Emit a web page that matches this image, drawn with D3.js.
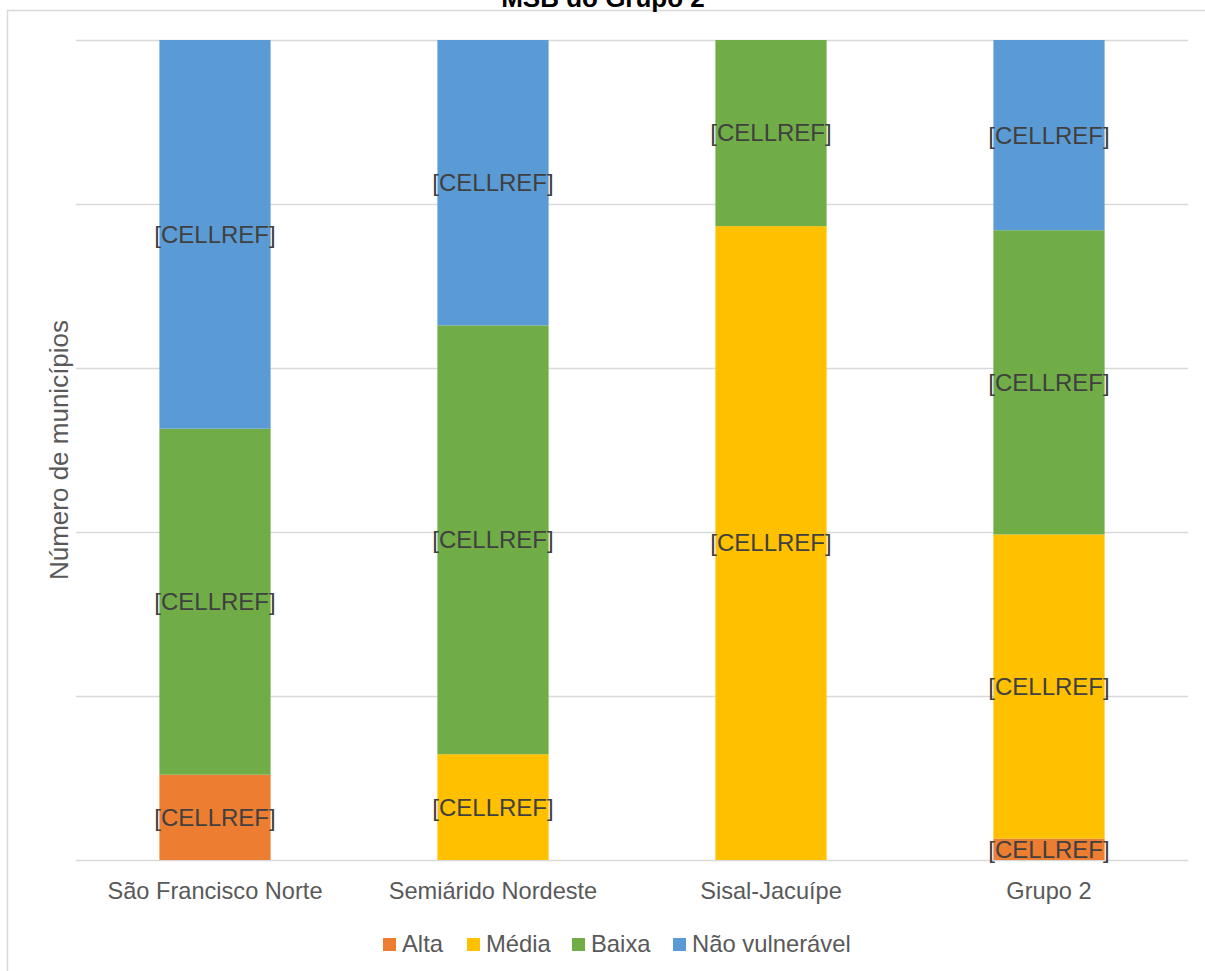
<!DOCTYPE html>
<html><head><meta charset="utf-8">
<script src="https://cdn.jsdelivr.net/npm/d3@7"></script>
<style>body{margin:0;background:#fff;} svg{display:block;font-family:"Liberation Sans",Arial,sans-serif;}</style>
</head><body>
<svg id="c" width="1205" height="971"></svg>
<script>
const categories = ["São Francisco Norte", "Semiárido Nordeste", "Sisal-Jacuípe", "Grupo 2"];
const seriesNames = ["Alta", "Média", "Baixa", "Não vulnerável"];
const seriesColors = ["#ED7D31", "#FFC000", "#70AD47", "#5B9BD5"];
// percentage shares
const alta = [10.4, 0, 0, 2.6];
const media = [0, 12.9, 77.3, 37.1];
const baixa = [42.2, 52.3, 22.7, 37.1];
const naoVulneravel = [47.4, 34.8, 0, 23.2];
const yTicks = [0, 20, 40, 60, 80, 100];
const labelText = "[CELLREF]";
const title = "MSB do Grupo 2";
const yTitle = "Número de municípios";

const seriesVals = [alta, media, baixa, naoVulneravel];
const rows = categories.map((c, i) => {
  const r = {cat: c};
  seriesNames.forEach((s, k) => r[s] = seriesVals[k][i]);
  return r;
});
const stack = d3.stack().keys(seriesNames).offset(d3.stackOffsetExpand)(rows);

const svg = d3.select("#c");
const m = {l: 76, r: 1188, t: 40, b: 860};
const x = d3.scaleBand().domain(categories).range([m.l, m.r]).paddingInner(0.6).paddingOuter(0.3);
const y = d3.scaleLinear().domain([0, 1]).range([m.b, m.t]);

// outer border
svg.append("rect").attr("x", 7.5).attr("y", 10.5).attr("width", 1210).attr("height", 980)
  .attr("fill", "none").attr("stroke", "#d9d9d9").attr("stroke-width", 1.5);

// title
svg.append("text").attr("x", 603).attr("y", 7).attr("text-anchor", "middle")
  .attr("font-size", 26).attr("font-weight", "bold").attr("fill", "#000").text(title);

// gridlines
svg.append("g").selectAll("line").data(yTicks).join("line")
  .attr("x1", m.l).attr("x2", m.r)
  .attr("y1", d => Math.round(y(d / 100)) + 0.5).attr("y2", d => Math.round(y(d / 100)) + 0.5)
  .attr("stroke", "#d9d9d9").attr("stroke-width", 1.5);

// bars
const g = svg.append("g");
stack.forEach((layer, k) => {
  g.append("g").attr("fill", seriesColors[k]).selectAll("rect").data(layer).join("rect")
    .attr("x", d => x(d.data.cat)).attr("width", x.bandwidth())
    .attr("y", d => y(d[1])).attr("height", d => y(d[0]) - y(d[1]));
});
// labels
stack.forEach((layer, k) => {
  g.append("g").selectAll("text").data(layer.filter(d => d[1] - d[0] > 0)).join("text")
    .attr("x", d => x(d.data.cat) + x.bandwidth() / 2)
    .attr("y", d => (y(d[0]) + y(d[1])) / 2)
    .attr("dy", "0.35em").attr("text-anchor", "middle")
    .attr("font-size", 24).attr("fill", "#404040").text(labelText);
});

// x axis labels
svg.append("g").selectAll("text").data(categories).join("text")
  .attr("x", d => x(d) + x.bandwidth() / 2).attr("y", 899)
  .attr("text-anchor", "middle").attr("font-size", 23.6).attr("fill", "#595959").text(d => d);

// y title
svg.append("text").attr("transform", "translate(68,450) rotate(-90)")
  .attr("text-anchor", "middle").attr("font-size", 26).attr("fill", "#595959").text(yTitle);

// legend
const legX = [383, 467, 572, 673];
const leg = svg.append("g").selectAll("g").data(seriesNames).join("g")
  .attr("transform", (d, i) => `translate(${legX[i]},938)`);
leg.append("rect").attr("width", 13).attr("height", 13).attr("fill", (d, i) => seriesColors[i]);
leg.append("text").attr("x", 19).attr("y", 14).attr("font-size", 23.8).attr("fill", "#595959").text(d => d);
</script>
</body></html>
